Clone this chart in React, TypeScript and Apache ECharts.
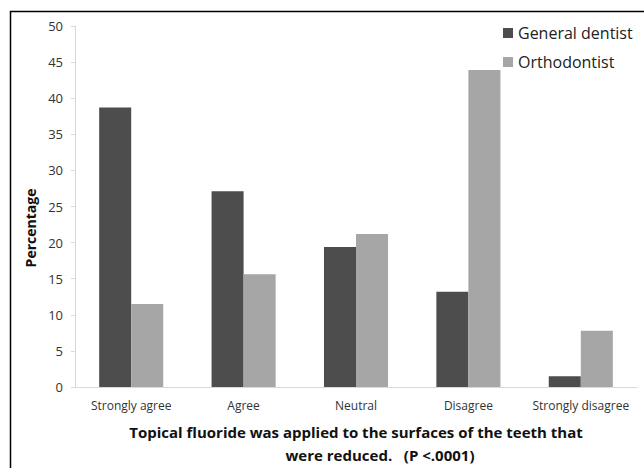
import React, { useEffect, useRef } from "react";
import * as echarts from "echarts";

const categories = ["Strongly agree", "Agree", "Neutral", "Disagree", "Strongly disagree"];
const generalDentist = [38.7, 27.1, 19.4, 13.2, 1.5];
const orthodontist = [11.5, 15.6, 21.2, 43.9, 7.8];
const seriesNames = ["General dentist", "Orthodontist"];
const yAxisTitle = "Percentage";
const xTitleLine1 = "Topical fluoride was applied to the surfaces of the teeth that";
const xTitleLine2 = "were reduced.   (P <.0001)";

const FONT = "'Open Sans', 'Noto Sans', sans-serif";

export default function App() {
  const ref = useRef<HTMLDivElement>(null);
  useEffect(() => {
    if (!ref.current) return;
    const chart = echarts.init(ref.current, undefined, { renderer: "svg" });
    chart.setOption({
      animation: false,
      backgroundColor: "#ffffff",
      textStyle: { fontFamily: FONT },
      grid: { left: 75, right: 7, top: 26, bottom: 81, containLabel: false },
      legend: {
        orient: "vertical",
        left: 498,
        top: 20,
        itemWidth: 10,
        itemHeight: 10,
        itemGap: 13,
        icon: "rect",
        textStyle: { fontSize: 16, color: "#222", fontFamily: FONT },
        data: seriesNames,
      },
      xAxis: {
        type: "category",
        data: categories,
        axisLine: { lineStyle: { color: "#d9d9d9", width: 1 } },
        axisTick: { show: false },
        axisLabel: { interval: 0, fontSize: 12, color: "#333", margin: 12, fontFamily: FONT },
      },
      yAxis: {
        type: "value",
        min: 0,
        max: 50,
        interval: 5,
        splitLine: { show: false },
        axisLine: { show: true, lineStyle: { color: "#d9d9d9", width: 1 } },
        axisTick: { show: true, length: 4, lineStyle: { color: "#d9d9d9" } },
        axisLabel: { fontSize: 13, color: "#333", margin: 12, fontFamily: FONT },
      },
      series: [
        {
          name: seriesNames[0],
          type: "bar",
          data: generalDentist,
          barGap: "0%",
          barCategoryGap: "43%",
          itemStyle: { color: "#4d4d4d" },
        },
        {
          name: seriesNames[1],
          type: "bar",
          data: orthodontist,
          barGap: "0%",
          barCategoryGap: "43%",
          itemStyle: { color: "#a6a6a6" },
        },
      ],
      graphic: [
        {
          type: "rect",
          shape: { x: 10.5, y: 11.5, width: 700, height: 500 },
          style: { fill: "none", stroke: "#000", lineWidth: 1.5 },
          silent: true,
          z: 100,
        },
        {
          type: "text",
          x: 30,
          y: 228,
          rotation: Math.PI / 2,
          style: {
            text: yAxisTitle,
            fontSize: 14,
            fontWeight: "bold",
            fill: "#111",
            fontFamily: FONT,
            align: "center",
            verticalAlign: "middle",
          },
        },
        {
          type: "text",
          x: 356,
          y: 432,
          style: {
            text: xTitleLine1,
            fontSize: 15,
            fontWeight: "bold",
            fill: "#111",
            fontFamily: FONT,
            align: "center",
            verticalAlign: "middle",
          },
        },
        {
          type: "text",
          x: 380,
          y: 455,
          style: {
            text: xTitleLine2,
            fontSize: 15,
            fontWeight: "bold",
            fill: "#111",
            fontFamily: FONT,
            align: "center",
            verticalAlign: "middle",
          },
        },
      ],
    });
    return () => chart.dispose();
  }, []);
  return (
    <div
      ref={ref}
      style={{ position: "fixed", left: 0, top: 0, width: 644, height: 468 }}
    />
  );
}
